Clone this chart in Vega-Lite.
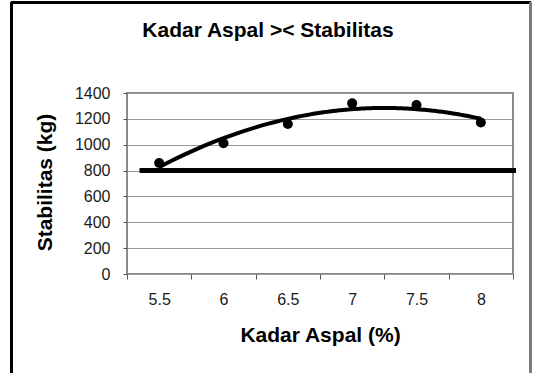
{
  "$schema": "https://vega.github.io/schema/vega-lite/v6.json",
  "autosize": "none",
  "width": 386,
  "height": 181,
  "padding": {"left": 127, "top": 93, "right": 20, "bottom": 99},
  "background": "white",
  "config": {
    "font": "Liberation Sans",
    "view": {"stroke": "#8a8a8a", "strokeWidth": 2},
    "axis": {
      "labelFont": "Liberation Sans",
      "labelFontSize": 16,
      "labelColor": "#1a1a1a",
      "titleFont": "Liberation Sans",
      "titleFontSize": 21,
      "titleFontWeight": "bold",
      "titleColor": "#000000",
      "domain": false,
      "tickColor": "#555555",
      "tickWidth": 1
    }
  },
  "title": {
    "text": "Kadar Aspal >< Stabilitas",
    "font": "Liberation Sans",
    "fontSize": 21,
    "fontWeight": "bold",
    "color": "#000000",
    "anchor": "middle",
    "baseline": "middle",
    "dx": -52,
    "offset": 0,
    "dy": 51
  },
  "data": {
    "values": [
      {"kadar": 5.5, "stabilitas": 858},
      {"kadar": 6.0, "stabilitas": 1011},
      {"kadar": 6.5, "stabilitas": 1160},
      {"kadar": 7.0, "stabilitas": 1320},
      {"kadar": 7.5, "stabilitas": 1307},
      {"kadar": 8.0, "stabilitas": 1172}
    ]
  },
  "encoding": {
    "x": {
      "field": "kadar",
      "type": "quantitative",
      "scale": {"domain": [5.25, 8.25], "nice": false, "zero": false},
      "axis": {
        "title": "Kadar Aspal (%)",
        "grid": false,
        "values": [5.25, 5.5, 5.75, 6, 6.25, 6.5, 6.75, 7, 7.25, 7.5, 7.75, 8, 8.25],
        "labelExpr": "(datum.value * 4) % 2 == 0 ? toString(datum.value) : ''",
        "tickOpacity": {"condition": {"test": "(datum.value * 4) % 2 == 0", "value": 0}, "value": 1},
        "tickSize": 5,
        "labelPadding": 12,
        "labelFlush": false,
        "labelOverlap": false,
        "titleY": 61,
        "titleBaseline": "middle"
      }
    },
    "y": {
      "field": "stabilitas",
      "type": "quantitative",
      "scale": {"domain": [0, 1400], "nice": false},
      "axis": {
        "title": "Stabilitas (kg)",
        "format": "d",
        "values": [0, 200, 400, 600, 800, 1000, 1200, 1400],
        "grid": true,
        "gridColor": "#9a9a9a",
        "gridWidth": 1,
        "tickSize": 4,
        "labelPadding": 13,
        "titleX": -82,
        "titleY": 89,
        "titleAngle": -90,
        "titleAlign": "center",
        "titleBaseline": "middle"
      }
    }
  },
  "layer": [
    {
      "mark": {"type": "rule", "color": "#000000", "strokeWidth": 2.5},
      "encoding": {
        "x": {"datum": 4.352},
        "y": {"datum": 2100},
        "y2": {"datum": -800}
      }
    },
    {
      "mark": {"type": "rule", "color": "#000000", "strokeWidth": 2.5},
      "encoding": {
        "x": {"datum": 4.352},
        "x2": {"datum": 8.386},
        "y": {"datum": 2100}
      }
    },
    {
      "mark": {"type": "rule", "color": "#7a7a7a", "strokeWidth": 2},
      "encoding": {
        "x": {"datum": 8.386},
        "y": {"datum": 2100},
        "y2": {"datum": -800}
      }
    },
    {
      "mark": {"type": "rule", "color": "#000000", "strokeWidth": 4},
      "encoding": {
        "x": {"datum": 5.35},
        "x2": {"datum": 8.273},
        "y": {"datum": 800}
      }
    },
    {
      "transform": [
        {"regression": "stabilitas", "on": "kadar", "method": "poly", "order": 2, "extent": [5.5, 8]}
      ],
      "mark": {"type": "line", "color": "#000000", "strokeWidth": 4, "interpolate": "monotone"}
    },
    {
      "mark": {"type": "point", "filled": true, "color": "#000000", "size": 100, "opacity": 1}
    }
  ]
}
